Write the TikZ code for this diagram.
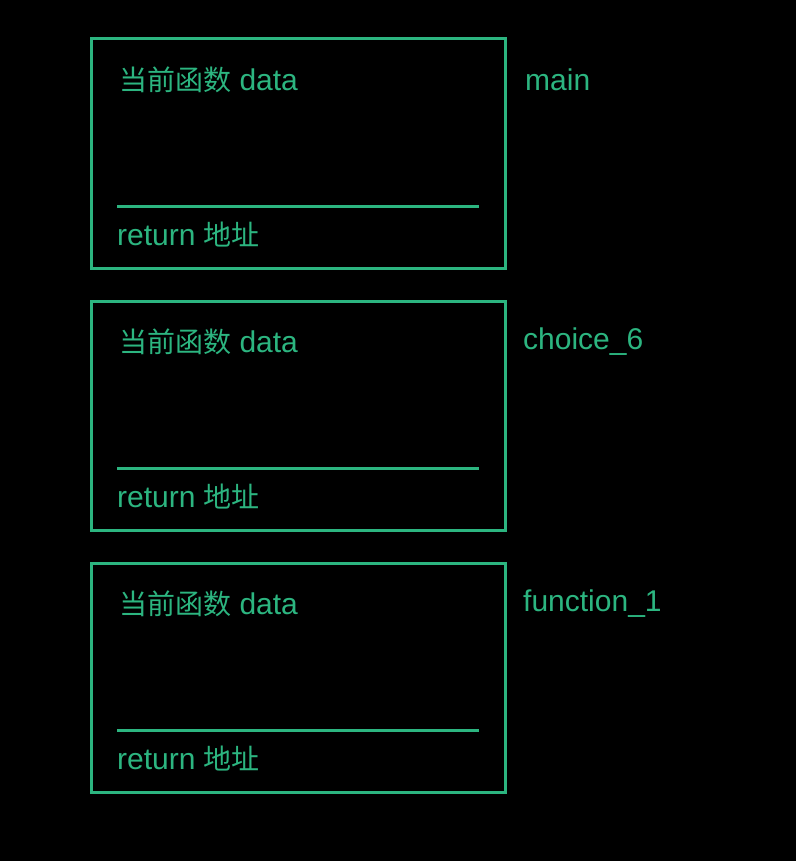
\documentclass[tikz,border=0pt]{standalone}
\usepackage{fontspec}
\setmainfont{Liberation Sans}
\newfontfamily\cjk{Noto Sans CJK SC}
\definecolor{fg}{RGB}{44,181,128}
\begin{document}
\begin{tikzpicture}[x=1pt,y=-1pt,
  frame/.style={draw=fg,line width=3pt},
  sep/.style={draw=fg,line width=3pt},
  txt/.style={text=fg,font=\fontsize{30}{34}\selectfont,anchor=west,inner sep=0pt}]
\fill[black] (0,0) rectangle (796,861);
\useasboundingbox (0,0) rectangle (796,861);
\foreach \i/\lab/\lx in {0/main/525,1/choice\_6/523,2/function\_1/523}{
  \pgfmathsetmacro{\oy}{262*\i}
  \draw[frame] (91,39+\oy) rectangle (505,268+\oy);
  \draw[sep] (117,206+\oy) -- (479,206+\oy);
  \node[txt] (d\i) at (119,80+\oy) {{\cjk\fontsize{28}{34}\selectfont 当前函数} data};
  \node[txt] (r\i) at (117,235+\oy) {return {\cjk\fontsize{28}{34}\selectfont 地址}};
  \node[txt] (n\i) at (\lx,80+\oy) {\lab};
}
\end{tikzpicture}
\end{document}
